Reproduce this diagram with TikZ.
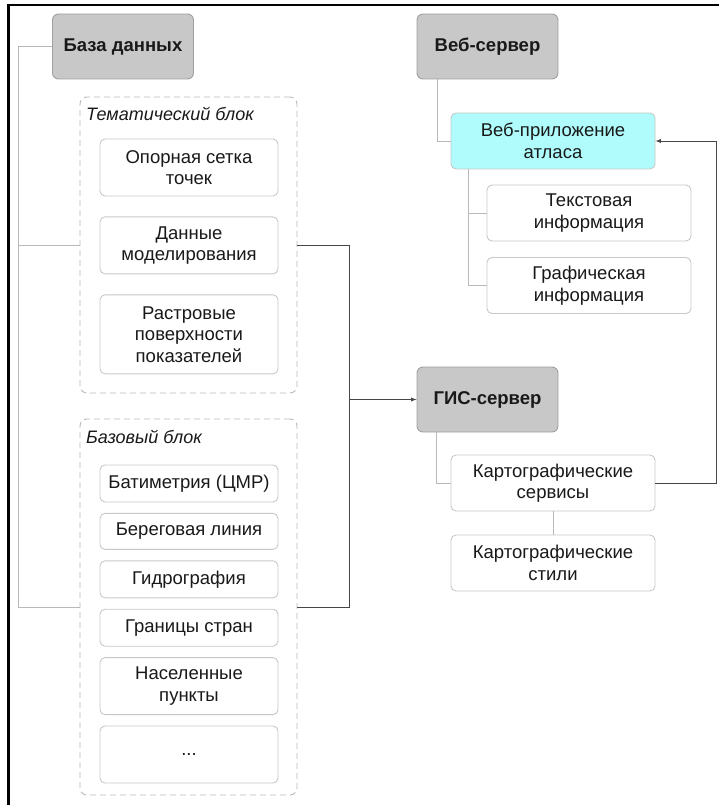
\documentclass[tikz,border=0pt]{standalone}
\usepackage{fontspec}
\setmainfont{Liberation Sans}
\usetikzlibrary{positioning,calc}
\definecolor{boxline}{RGB}{200,200,200}
\definecolor{headfill}{RGB}{200,200,200}
\definecolor{headline}{RGB}{160,160,160}
\definecolor{appfill}{RGB}{176,252,252}
\definecolor{treeline}{RGB}{185,185,185}
\definecolor{flowline}{RGB}{70,70,70}

\begin{document}
\begin{tikzpicture}[x=1pt,y=-1pt,
				every node/.style={font=\fontsize{18.5}{21.5}\selectfont,text=black!90},
				item/.style={draw=boxline,line width=0.9pt,rounded corners=5pt,fill=white,align=center,inner sep=0pt,minimum width=178pt},
				wide/.style={item,minimum width=204pt,minimum height=56pt},
				head/.style={draw=headline,line width=0.9pt,rounded corners=6pt,fill=headfill,inner sep=0pt,
					minimum width=141pt,minimum height=65pt,font=\fontsize{18.5}{21.5}\selectfont\bfseries},
				group/.style={draw=treeline,line width=0.9pt,dash pattern=on 6pt off 4pt,rounded corners=7pt,
					inner sep=0pt,minimum width=217pt},
				tag/.style={anchor=base west,inner sep=0pt,font=\fontsize{18}{21}\selectfont\itshape},
				tree/.style={draw=treeline,line width=0.9pt},
				flow/.style={draw=flowline,line width=0.9pt}]
				\useasboundingbox (0,0) rectangle (719,805);
				\draw[line width=2.2pt] (8.5,830) -- (8.5,5) -- (740,5);

				\node (DB)    [head]      at (123,46.5)  {База данных};
				\node (WEB)   [head]      at (487.5,46.5) {Веб-сервер};
				\node (GIS)   [head]      at (487.5,399.5) {ГИС-сервер};

				\node (TEMA)  [group,minimum height=296pt] at (188.5,245) {};
				\node (TEMAT) [tag] at (86,121) {Тематический блок};
				\node (GRID)  [item,minimum height=57pt] at (189,167.5) {Опорная сетка\\точек};
				\node (MODEL) [item,minimum height=57pt,below=20pt of GRID] {Данные\\моделирования};
				\node (RAST)  [item,minimum height=79pt,below=20pt of MODEL] {Растровые\\поверхности\\показателей};

				\node (BASE)  [group,minimum height=376pt] at (188.5,607) {};
				\node (BASET) [tag] at (86,443) {Базовый блок};
				\node (BATH)  [item,minimum height=37pt] at (189,483.5) {Батиметрия (ЦМР)};
				\node (COAST) [item,minimum height=36pt,below=10.5pt of BATH] {Береговая линия};
				\node (HYDRO) [item,minimum height=37pt,below=10.5pt of COAST] {Гидрография};
				\node (BORD)  [item,minimum height=37pt,below=10.5pt of HYDRO] {Границы стран};
				\node (SETL)  [item,minimum height=57pt,below=10.5pt of BORD] {Населенные\\пункты};
				\node (MORE)  [item,minimum height=57pt,below=10.5pt of SETL] {...};

				\node (APP)   [wide,fill=appfill] at (553,141) {Веб-приложение\\атласа};
				\node (TEXT)  [wide] at (589,213) {Текстовая\\информация};
				\node (GRAPH) [wide] at (589,285.5) {Графическая\\информация};
				\node (SERV)  [wide] at (553,483) {Картографические\\сервисы};
				\node (STYLE) [wide] at (553,563) {Картографические\\стили};

				\coordinate (DBL)  at (18,0);
				\coordinate (MID)  at (349,0);
				\coordinate (BACK) at (716,0);

				\draw[tree] (DB.west) -| (DBL |- BASE.west) -- (BASE.west);
				\draw[tree] (DBL |- TEMA.west) -- (TEMA.west);
				\draw[flow] (TEMA.east) -| (MID |- BASE.east) -- (BASE.east);
				\draw[flow,-latex] (MID |- GIS.west) -- (GIS.west);

				\draw[tree] ([xshift=21pt]WEB.south west) |- (APP.west);
				\draw[tree] ([xshift=18pt]APP.south west) |- (GRAPH.west);
				\draw[tree] ([xshift=18pt]APP.south west |- TEXT.west) -- (TEXT.west);
				\draw[tree] ([xshift=20pt]GIS.south west) |- (SERV.west);
				\draw[tree] (SERV.south) -- (STYLE.north);
				\draw[flow,-latex] (SERV.east) -| (BACK |- APP.east) -- (APP.east);
			\end{tikzpicture}
\end{document}
